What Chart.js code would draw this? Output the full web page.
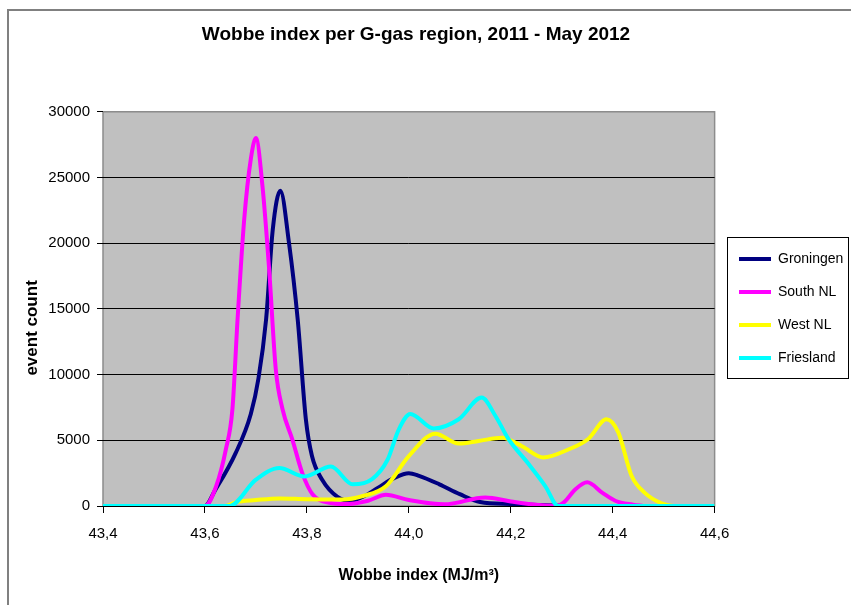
<!DOCTYPE html>
<html lang="en">
<head>
  <meta charset="UTF-8" />
  <title>Wobbe index per G-gas region</title>
  <style>
    html, body { margin: 0; padding: 0; background: #fff; }
    #grafico { display: block; }
  </style>
</head>
<body>
  <canvas id="grafico" width="851" height="605"></canvas>

<script src="https://cdn.jsdelivr.net/npm/chart.js@4.4.0/dist/chart.umd.min.js"></script>
<script>
  // --- data ---
  const xTickValues = [43.4, 43.6, 43.8, 44.0, 44.2, 44.4, 44.6];
  const yTickValues = [0, 5000, 10000, 15000, 20000, 25000, 30000];

  const regions = ['Groningen', 'South NL', 'West NL', 'Friesland'];
  const regionColors = ['#000080', '#ff00ff', '#ffff00', '#00ffff'];

  const groningenX = [43.40, 43.60, 43.62, 43.66, 43.69, 43.705, 43.72, 43.733, 43.748, 43.765, 43.782, 43.798, 43.81, 43.83, 43.86, 43.885, 43.91, 43.94, 43.97, 44.00, 44.02, 44.06, 44.10, 44.14, 44.20, 44.26, 44.33, 44.60];
  const groningenY = [0, 0, 1200, 4000, 7000, 9700, 14200, 21000, 24000, 20000, 14200, 6600, 3800, 2000, 700, 400, 700, 1400, 2100, 2500, 2300, 1650, 900, 300, 150, 80, 0, 0];

  const southX = [43.40, 43.60, 43.622, 43.641, 43.654, 43.664, 43.677, 43.69, 43.70, 43.713, 43.726, 43.739, 43.752, 43.772, 43.791, 43.811, 43.844, 43.88, 43.92, 43.955, 44.00, 44.07, 44.15, 44.20, 44.24, 44.29, 44.305, 44.327, 44.35, 44.38, 44.406, 44.44, 44.46];
  const southY = [0, 0, 1500, 4300, 7400, 14200, 21800, 26400, 28000, 24300, 18000, 10400, 7400, 5000, 2500, 900, 250, 150, 400, 850, 450, 130, 650, 350, 130, 0, 300, 1270, 1800, 1000, 380, 100, 0];

  const westX = [43.40, 43.64, 43.66, 43.70, 43.746, 43.80, 43.87, 43.91, 43.955, 44.00, 44.052, 44.098, 44.137, 44.183, 44.222, 44.264, 44.313, 44.352, 44.388, 44.411, 44.437, 44.463, 44.496, 44.52, 44.60];
  const westY = [0, 0, 280, 450, 580, 520, 500, 760, 1500, 3800, 5500, 4750, 4950, 5200, 4550, 3700, 4300, 5100, 6600, 5600, 2300, 1000, 200, 0, 0];

  const frieslandX = [43.40, 43.648, 43.70, 43.746, 43.795, 43.847, 43.89, 43.928, 43.958, 43.98, 44.003, 44.049, 44.098, 44.143, 44.17, 44.196, 44.235, 44.268, 44.293, 44.60];
  const frieslandY = [0, 0, 2000, 2900, 2250, 3000, 1650, 2050, 3500, 5800, 7000, 5900, 6600, 8250, 6850, 5070, 3200, 1500, 0, 0];

  const seriesX = [groningenX, southX, westX, frieslandX];
  const seriesY = [groningenY, southY, westY, frieslandY];

  const FUENTE = "'Liberation Sans', Arial, sans-serif";
  const LEGEND_PAD = 19;
  // axis titles sit a bit off-centre in the original
  const Y_TITLE_SHIFT = 19;
  const X_TITLE_SHIFT = 10;

  function puntos(xs, ys) {
    return xs.map((x, i) => ({ x: x, y: ys[i] }));
  }

  const datasets = regions.map((name, i) => ({
    label: name,
    data: puntos(seriesX[i], seriesY[i]),
    borderColor: regionColors[i],
    backgroundColor: regionColors[i],
    borderWidth: 4,
    pointRadius: 0,
    cubicInterpolationMode: 'monotone',
    fill: false,
    order: regions.length - i   // later series drawn on top, like Excel
  }));

  // frame, plot background and legend box
  const decoracion = {
    id: 'decoracion',
    beforeDraw(chart) {
      const { ctx, chartArea: a, width, height } = chart;
      ctx.save();
      ctx.fillStyle = '#fff';
      ctx.fillRect(0, 0, width, height);
      ctx.strokeStyle = '#808080';
      ctx.lineWidth = 2;
      ctx.beginPath();
      ctx.moveTo(8, height);
      ctx.lineTo(8, 10);
      ctx.lineTo(width, 10);
      ctx.stroke();
      ctx.fillStyle = '#c0c0c0';
      ctx.fillRect(a.left, a.top, a.right - a.left, a.bottom - a.top);
      ctx.strokeStyle = '#8c8c8c';
      ctx.lineWidth = 1.5;
      ctx.strokeRect(a.left, a.top, a.right - a.left, a.bottom - a.top);
      ctx.restore();
      // move axis titles only while the scales are painted
      chart.scales.y.top += Y_TITLE_SHIFT;
      chart.scales.y.bottom += Y_TITLE_SHIFT;
      chart.scales.x.left += X_TITLE_SHIFT;
      chart.scales.x.right += X_TITLE_SHIFT;
    },
    beforeDatasetsDraw(chart) {
      chart.scales.y.top -= Y_TITLE_SHIFT;
      chart.scales.y.bottom -= Y_TITLE_SHIFT;
      chart.scales.x.left -= X_TITLE_SHIFT;
      chart.scales.x.right -= X_TITLE_SHIFT;
    },
    afterLayout(chart) {
      const lg = chart.legend;
      const dx = (739 - LEGEND_PAD) - lg.left;
      lg.left += dx;
      lg.right += dx;
      lg.top += 6;
      lg.bottom += 6;
      chart.titleBlock.left -= 8;
      chart.titleBlock.right -= 8;
    },
    afterDraw(chart) {
      const boxes = chart.legend.legendHitBoxes;
      if (!boxes || !boxes.length) return;
      const first = boxes[0];
      const last = boxes[boxes.length - 1];
      const ctx = chart.ctx;
      const top = first.top + first.height / 2 - 22;
      const bottom = last.top + last.height / 2 + 20;
      ctx.save();
      ctx.strokeStyle = '#000';
      ctx.lineWidth = 1;
      ctx.strokeRect(727.5, Math.round(top) + 0.5, 848 - 727, Math.round(bottom - top));
      ctx.restore();
    }
  };

  new Chart(document.getElementById('grafico'), {
    type: 'line',
    data: { datasets: datasets },
    options: {
      responsive: false,
      animation: false,
      layout: { padding: { left: 0, right: 3, top: 0, bottom: 0 } },
      plugins: {
        title: {
          display: true,
          text: 'Wobbe index per G-gas region, 2011 - May 2012',
          color: '#000',
          font: { family: FUENTE, size: 19, weight: 'bold' },
          padding: { top: 23, bottom: 66 }
        },
        legend: {
          position: 'right',
          labels: {
            color: '#000',
            font: { family: FUENTE, size: 14 },
            usePointStyle: true,
            pointStyle: 'line',
            pointStyleWidth: 32,
            padding: LEGEND_PAD,
            sort: (a, b) => a.datasetIndex - b.datasetIndex
          }
        },
        tooltip: { enabled: false }
      },
      scales: {
        x: {
          type: 'linear',
          min: xTickValues[0],
          max: xTickValues[xTickValues.length - 1],
          afterBuildTicks: s => { s.ticks = xTickValues.map(v => ({ value: v })); },
          afterFit: s => { s.height = 99; },
          ticks: {
            color: '#000',
            font: { family: FUENTE, size: 15 },
            padding: 12,
            maxRotation: 0,
            callback: v => Number(v).toFixed(1).replace('.', ',')
          },
          grid: { drawOnChartArea: false, drawTicks: true, tickLength: 7, color: '#000' },
          border: { display: false },
          title: {
            display: true,
            text: 'Wobbe index (MJ/m³)',
            color: '#000',
            font: { family: FUENTE, size: 16, weight: 'bold' },
            padding: { top: 20, bottom: 20 }
          }
        },
        y: {
          min: yTickValues[0],
          max: yTickValues[yTickValues.length - 1],
          afterBuildTicks: s => { s.ticks = yTickValues.map(v => ({ value: v })); },
          afterFit: s => { s.width = 103; },
          ticks: {
            color: '#000',
            font: { family: FUENTE, size: 15 },
            padding: 7,
            callback: v => String(v)
          },
          grid: {
            color: c => (c.tick && c.tick.value === yTickValues[yTickValues.length - 1]) ? '#8c8c8c' : '#000',
            tickColor: '#000',
            lineWidth: 1,
            tickLength: 6
          },
          border: { display: false },
          title: {
            display: true,
            text: 'event count',
            color: '#000',
            font: { family: FUENTE, size: 17, weight: 'bold' },
            padding: { top: 22, bottom: 0 }
          }
        }
      }
    },
    plugins: [decoracion]
  });
</script>
</body>
</html>
